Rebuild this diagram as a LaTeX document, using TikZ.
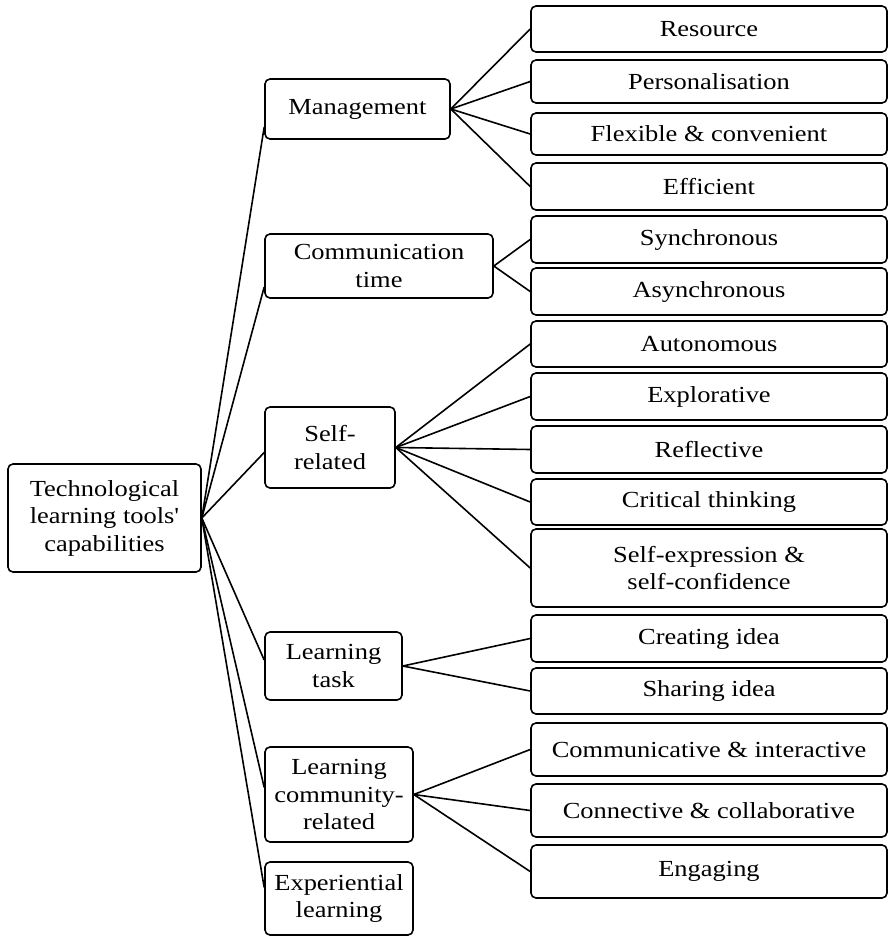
\documentclass[tikz,border=0pt]{standalone}
\usepackage{fontspec}
\setmainfont{Liberation Serif}[FakeStretch=1.15, Ligatures=TeXOff]
\begin{document}
\begin{tikzpicture}[x=1pt,y=-1pt,
  box/.style={draw=black, line width=1.6pt, rounded corners=5pt, inner sep=0pt,
    align=center, font=\fontsize{23}{27.5}\selectfont},
  link/.style={draw=black, line width=1.6pt}]
% page frame
\useasboundingbox (0,0) rectangle (889,938);
% \bx{name}{x1}{y1}{x2}{y2}{text}: box spanning the given corners
\newcommand\bx[6]{%
  \node[box, minimum width={(#4-#2)*1pt}, minimum height={(#5-#3)*1pt}]
    (#1) at ({(#2+#4)/2},{(#3+#5)/2}) {#6};}
% root
\bx{root}{8}{464}{201}{572}{Technological\\learning tools'\\capabilities}
% categories
\bx{mgmt}{265}{79}{450}{139}{Management}
\bx{comm}{265}{234}{493}{298}{Communication\\time}
\bx{self}{265}{407}{395}{488}{Self-\\related}
\bx{task}{265}{632}{402}{700}{Learning\\task}
\bx{lc}{265}{747}{413}{842}{Learning\\community-\\related}
\bx{exp}{265}{862}{413}{935}{Experiential\\learning}
% capabilities
\bx{res}{531}{6}{887}{52}{Resource}
\bx{pers}{531}{60}{887}{103}{Personalisation}
\bx{flex}{531}{113}{887}{155}{Flexible \& convenient}
\bx{eff}{531}{163}{887}{210}{Efficient}
\bx{sync}{531}{216}{887}{263}{Synchronous}
\bx{async}{531}{268}{887}{315}{Asynchronous}
\bx{auto}{531}{321}{887}{367}{Autonomous}
\bx{expl}{531}{373}{887}{420}{Explorative}
\bx{refl}{531}{426}{887}{473}{Reflective}
\bx{crit}{531}{479}{887}{525}{Critical thinking}
\bx{sexp}{531}{529}{887}{607}{Self-expression \&\\self-confidence}
\bx{create}{531}{615}{887}{662}{Creating idea}
\bx{share}{531}{668}{887}{714}{Sharing idea}
\bx{cint}{531}{723}{887}{776}{Communicative \& interactive}
\bx{conn}{531}{784}{887}{837}{Connective \& collaborative}
\bx{eng}{531}{845}{887}{898}{Engaging}
% root to categories
\draw[link] (root.east) -- ([yshift=-18pt]mgmt.west);
\draw[link] (root.east) -- ([yshift=-21pt]comm.west);
\draw[link] (root.east) -- ([yshift=-5pt]self.west);
\draw[link] (root.east) -- ([yshift=6pt]task.west);
\draw[link] (root.east) -- ([yshift=7pt]lc.west);
\draw[link] (root.east) -- ([yshift=11pt]exp.west);
% categories to capabilities
\foreach \c in {res,pers,flex,eff} \draw[link] (mgmt.east) -- (\c.west);
\foreach \c in {sync,async} \draw[link] (comm.east) -- (\c.west);
\foreach \c in {auto,expl,refl,crit,sexp} \draw[link] (self.east) -- (\c.west);
\foreach \c in {create,share} \draw[link] (task.east) -- (\c.west);
\foreach \c in {cint,conn,eng} \draw[link] (lc.east) -- (\c.west);
\end{tikzpicture}
\end{document}
